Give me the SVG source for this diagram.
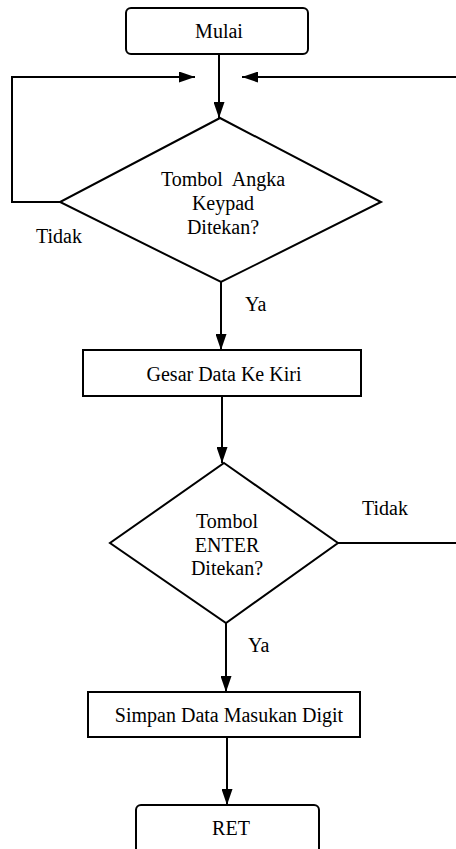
<svg xmlns="http://www.w3.org/2000/svg" width="456" height="849" viewBox="0 0 456 849">
<style>
.shape{fill:#fff;stroke:#000;stroke-width:2}
.line{fill:none;stroke:#000;stroke-width:2}
text{font-family:'Liberation Serif','Times New Roman',Times,Tinos,'DejaVu Serif',serif;font-size:20px;fill:#000}
.c{text-anchor:middle}
</style>
<defs>
<marker id="ah" markerWidth="16" markerHeight="11" refX="16" refY="5.5" orient="auto" markerUnits="userSpaceOnUse">
<path d="M0,0 L16,5.5 L0,11 Z" fill="#000"/>
</marker>
</defs>
<rect width="456" height="849" fill="#fff"/>
<g id="connectors">
<line class="line" x1="219" y1="54" x2="219" y2="118" marker-end="url(#ah)"/>
<polyline class="line" points="60,202 12,202 12,77 195,77" marker-end="url(#ah)"/>
<polyline class="line" points="338,543 458,543 458,77 242,77" marker-end="url(#ah)"/>
<line class="line" x1="221" y1="282" x2="221" y2="350" marker-end="url(#ah)"/>
<line class="line" x1="222" y1="396" x2="222" y2="463" marker-end="url(#ah)"/>
<line class="line" x1="226" y1="623" x2="226" y2="692" marker-end="url(#ah)"/>
<line class="line" x1="227" y1="737" x2="227" y2="805" marker-end="url(#ah)"/>
<text x="36" y="243">Tidak</text>
<text x="245" y="311">Ya</text>
<text x="362" y="515">Tidak</text>
<text x="248" y="652">Ya</text>
</g>
<g id="mulai">
<rect class="shape" x="126" y="8" width="182" height="46" rx="5"/>
<text class="c" x="219" y="38">Mulai</text>
</g>
<g id="cek-angka">
<polygon class="shape" points="220,118 381,202 221,282 60,202"/>
<text class="c" x="223" y="186" xml:space="preserve">Tombol  Angka</text>
<text class="c" x="223" y="210">Keypad</text>
<text class="c" x="223" y="234">Ditekan?</text>
</g>
<g id="gesar">
<rect class="shape" x="83" y="350" width="278" height="46"/>
<text class="c" x="224" y="381">Gesar Data Ke Kiri</text>
</g>
<g id="cek-enter">
<polygon class="shape" points="224,463 338,543 226,623 110,543"/>
<text class="c" x="227" y="528">Tombol</text>
<text class="c" x="227" y="552">ENTER</text>
<text class="c" x="227" y="575">Ditekan?</text>
</g>
<g id="simpan">
<rect class="shape" x="88" y="692" width="272" height="45"/>
<text class="c" x="229" y="722">Simpan Data Masukan Digit</text>
</g>
<g id="ret">
<rect class="shape" x="136" y="805" width="183" height="60" rx="5"/>
<text class="c" x="231" y="835">RET</text>
</g>
</svg>
